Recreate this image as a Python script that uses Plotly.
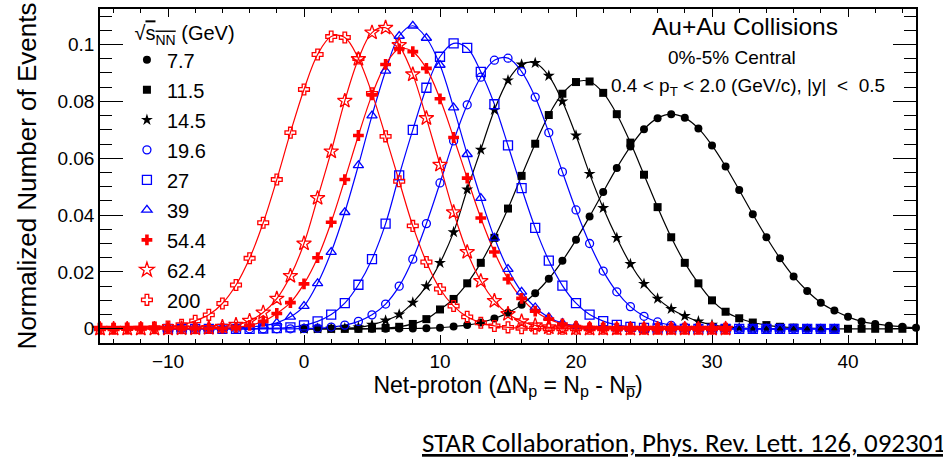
import plotly.graph_objects as go

# ---------------- data ----------------
energies = ["7.7", "11.5", "14.5", "19.6", "27", "39", "54.4", "62.4", "200"]

n_red = list(range(-15, 32))
n_blue = list(range(-10, 40))
n_77 = list(range(0, 48))
n_115 = list(range(0, 45))
n_145 = list(range(0, 36))

v200 = [0, 0, 0.0001, 0.0002, 0.0004, 0.0008, 0.0014, 0.0028, 0.0049, 0.0089,
        0.0154, 0.0248, 0.0373, 0.0525, 0.0690, 0.0842, 0.0965, 0.1028, 0.1025, 0.0951,
        0.0828, 0.0677, 0.0519, 0.0362, 0.0235, 0.0140, 0.0080, 0.0042, 0.0021, 0.0010,
        0.0005, 0.0002, 0.0001] + [0] * 14
v624 = [0, 0, 0, 0, 0, 0, 0.0001, 0.0001, 0.0003, 0.0007,
        0.0014, 0.0028, 0.0057, 0.0106, 0.0186, 0.0300, 0.0460, 0.0624, 0.0802, 0.0949,
        0.1042, 0.1059, 0.0998, 0.0895, 0.0741, 0.0577, 0.0410, 0.0270, 0.0168, 0.0098,
        0.0052, 0.0026, 0.0012, 0.0005, 0.0002, 0.0001] + [0] * 11
v544 = [0] * 8 + [0.0001, 0.0002, 0.0005, 0.0012, 0.0026, 0.0054, 0.0092, 0.0158, 0.0250,
                  0.0375, 0.0525, 0.0680, 0.0823, 0.0930, 0.0985, 0.0975, 0.0916, 0.0809,
                  0.0673, 0.0530, 0.0390, 0.0270, 0.0175, 0.0107, 0.0062, 0.0034, 0.0017,
                  0.0008, 0.0004, 0.0002, 0.0001] + [0] * 8
v39 = [0, 0, 0.0001, 0.0001, 0.0002, 0.0003, 0.0006, 0.0011, 0.0021, 0.0042,
       0.0080, 0.0160, 0.0270, 0.0410, 0.0575, 0.0750, 0.0907, 0.1030, 0.1066, 0.1023,
       0.0928, 0.0778, 0.0614, 0.0460, 0.0320, 0.0210, 0.0130, 0.0075, 0.0040, 0.0020,
       0.0010, 0.0005, 0.0002, 0.0001] + [0] * 16
v27 = [0] * 7 + [0.0001, 0.0002, 0.0005, 0.0012, 0.0026, 0.0050, 0.0090, 0.0155, 0.0245,
                 0.0370, 0.0540, 0.0700, 0.0848, 0.0957, 0.1004, 0.0988, 0.0904, 0.0790,
                 0.0645, 0.0495, 0.0355, 0.0240, 0.0152, 0.0090, 0.0050, 0.0027, 0.0014,
                 0.0007, 0.0003, 0.0001] + [0] * 13
v196 = [0] * 10 + [0.0001, 0.0002, 0.0006, 0.0013, 0.0026, 0.0049, 0.0087, 0.0150, 0.0245,
                   0.0370, 0.0513, 0.0661, 0.0788, 0.0885, 0.0945, 0.0952, 0.0905, 0.0815,
                   0.0690, 0.0552, 0.0418, 0.0300, 0.0203, 0.0130, 0.0078, 0.0044, 0.0024,
                   0.0012, 0.0006, 0.0003, 0.0001] + [0] * 9
v145 = [0, 0.0001, 0.0001, 0.0002, 0.0005, 0.0014, 0.0029, 0.0050, 0.0092, 0.0150,
        0.0232, 0.0340, 0.0490, 0.0630, 0.0770, 0.0874, 0.0930, 0.0935, 0.0890, 0.0800,
        0.0680, 0.0545, 0.0425, 0.0320, 0.0228, 0.0158, 0.0106, 0.0070, 0.0045, 0.0026,
        0.0014, 0.0007, 0.0003, 0.0001, 0, 0]
v115 = [0] * 5 + [0.0001, 0.0003, 0.0007, 0.0017, 0.0034, 0.0068, 0.0105, 0.0160, 0.0232,
                  0.0320, 0.0423, 0.0538, 0.0651, 0.0752, 0.0827, 0.0868, 0.0870, 0.0830,
                  0.0755, 0.0655, 0.0542, 0.0428, 0.0322, 0.0232, 0.0160, 0.0100, 0.0060,
                  0.0037, 0.0022, 0.0013, 0.0007, 0.0004, 0.0002, 0.0001] + [0] * 6
v77 = [0] * 7 + [0.0001, 0.0001, 0.0002, 0.0004, 0.0008, 0.0013, 0.0022, 0.0036, 0.0056,
                 0.0085, 0.0125, 0.0176, 0.0239, 0.0313, 0.0395, 0.0481, 0.0566, 0.0641,
                 0.0702, 0.0741, 0.0755, 0.0742, 0.0705, 0.0645, 0.0571, 0.0488, 0.0403,
                 0.0322, 0.0248, 0.0184, 0.0133, 0.0092, 0.0064, 0.0042, 0.0026, 0.0017,
                 0.0011, 0.0007, 0.0004, 0.0002, 0.0001]

x_ticks = [-10, 0, 10, 20, 30, 40]
x_ticktext = ["\u221210", "0", "10", "20", "30", "40"]
y_ticks = [0, 0.02, 0.04, 0.06, 0.08, 0.1]
y_ticktext = ["0", "0.02", "0.04", "0.06", "0.08", "0.1"]

# ---------------- styles ----------------
BLACK, BLUE, RED = "#000000", "#0000ff", "#ff0000"
series = [
    ("7.7", n_77, v77, BLACK, "circle", 8),
    ("11.5", n_115, v115, BLACK, "square", 8),
    ("14.5", n_145, v145, BLACK, "star", 9),
    ("19.6", n_blue, v196, BLUE, "circle-open", 8),
    ("27", n_blue, v27, BLUE, "square-open", 9),
    ("39", n_blue, v39, BLUE, "triangle-up-open", 9),
    ("54.4", n_red, v544, RED, "cross", 9),
    ("62.4", n_red, v624, RED, "star-open", 11),
    ("200", n_red, v200, RED, "cross-open", 9),
]

FONT = "Liberation Sans, Arial, Helvetica, sans-serif"
fig = go.Figure()

for name, xs, ys, col, sym, sz in series:
    fig.add_trace(go.Scatter(x=xs, y=ys, mode="lines", line=dict(color=col, width=1.2, shape="spline"),
                             showlegend=False, hoverinfo="skip"))
for name, xs, ys, col, sym, sz in series:
    fig.add_trace(go.Scatter(x=xs, y=ys, mode="markers", name=name, legendgroup=name,
                             marker=dict(symbol=sym, size=sz, color=col,
                                         line=dict(color=col, width=1.3 if "open" in sym else 0)),
                             cliponaxis=False))

fig.update_layout(
    width=943, height=460,
    margin=dict(l=100, r=27, t=7, b=117),
    paper_bgcolor="white", plot_bgcolor="white",
    font=dict(family=FONT, color="black", size=18),
    legend=dict(x=0.033, y=0.984, xanchor="left", yanchor="top", tracegroupgap=1,
                bgcolor="rgba(0,0,0,0)", font=dict(size=20, family=FONT),
                title=dict(text="\u00a0\u221a<span style='text-decoration:overline'>s<sub>NN</sub></span> (GeV)",
                           font=dict(size=20, family=FONT)),
                itemsizing="trace"),
    xaxis=dict(range=[-15, 45], tickvals=x_ticks, ticktext=x_ticktext,
               ticks="inside", ticklen=8, tickwidth=1, tickcolor="black",
               minor=dict(dtick=2, ticks="inside", ticklen=4, tickwidth=1, tickcolor="black"),
               showline=True, linecolor="black", linewidth=1.5, mirror="allticks",
               showgrid=False, zeroline=False, tickfont=dict(size=19),
               title=dict(text="Net-proton (\u0394N<sub>p</sub> = N<sub>p</sub> - N<sub>p\u0305</sub>)",
                          font=dict(size=23), standoff=0)),
    yaxis=dict(range=[-0.005, 0.1125], tickvals=y_ticks, ticktext=y_ticktext,
               ticks="inside", ticklen=23, tickwidth=1, tickcolor="black",
               minor=dict(dtick=0.005, ticks="inside", ticklen=12, tickwidth=1, tickcolor="black"),
               showline=True, linecolor="black", linewidth=1.5, mirror="allticks",
               showgrid=False, zeroline=False, tickfont=dict(size=19),
               title=dict(text="Normalized Number of Events", font=dict(size=26), standoff=13)),
)

fig.add_annotation(x=0.790, y=0.948, xref="paper", yref="paper", text="Au+Au Collisions",
                   xanchor="center", yanchor="middle", showarrow=False, font=dict(size=24.5))
fig.add_annotation(x=0.775, y=0.854, xref="paper", yref="paper", text="0%-5% Central",
                   xanchor="center", yanchor="middle", showarrow=False, font=dict(size=19))
fig.add_annotation(x=0.794, y=0.765, xref="paper", yref="paper",
                   text="0.4 < p<sub>T</sub> < 2.0 (GeV/c), |y|  <  0.5",
                   xanchor="center", yanchor="middle", showarrow=False, font=dict(size=19))
fig.add_annotation(x=(420 - 100) / 816.7, y=(343 - 443) / 336, xref="paper", yref="paper",
                   xanchor="left", yanchor="middle",
                   text="<u>STAR Collaboration, Phys. Rev. Lett. 126, 092301</u>",
                   showarrow=False, font=dict(size=27, family="Carlito, Lato, Open Sans, sans-serif"))

fig.write_html("out.html", config={"displayModeBar": False},
               post_script="document.body.style.margin='0px';")
